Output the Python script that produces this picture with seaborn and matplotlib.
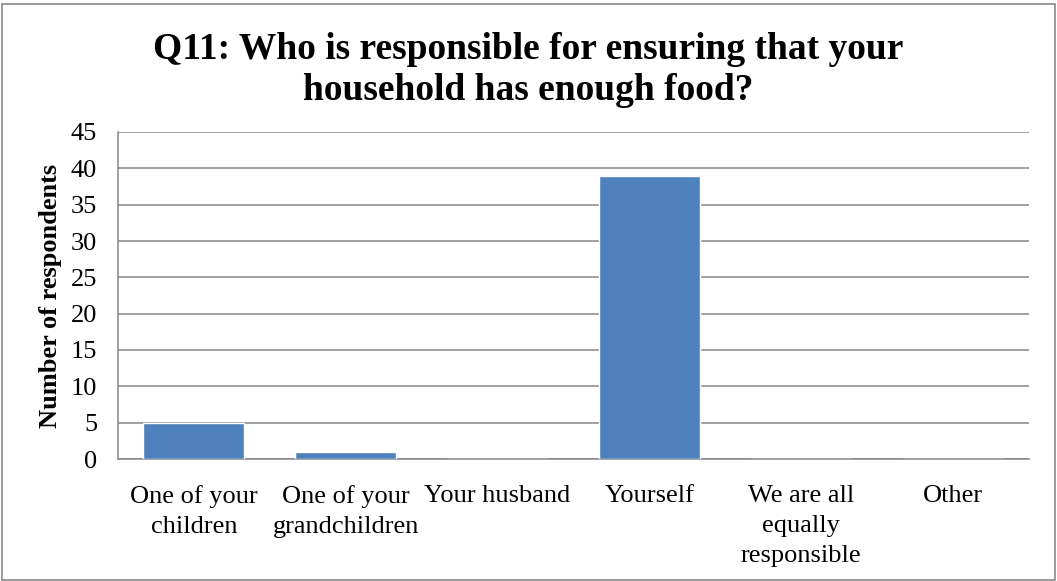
import matplotlib
matplotlib.use("Agg")
import matplotlib.pyplot as plt
from matplotlib.patches import Rectangle
import seaborn as sns
import pandas as pd

categories = [
    "One of your\nchildren",
    "One of your\ngrandchildren",
    "Your husband",
    "Yourself",
    "We are all\nequally\nresponsible",
    "Other",
]
respondents = [5, 1, 0, 39, 0, 0]
y_ticks = [0, 5, 10, 15, 20, 25, 30, 35, 40, 45]

title = "Q11: Who is responsible for ensuring that your\nhousehold has enough food?"
y_label = "Number of respondents"

sns.set_style("white")
plt.rcParams["font.family"] = ["Liberation Serif", "DejaVu Serif"]
plt.rcParams["text.color"] = "black"
plt.rcParams["xtick.color"] = "black"
plt.rcParams["ytick.color"] = "black"
plt.rcParams["axes.labelcolor"] = "black"

W, H = 1057, 581
fig = plt.figure(figsize=(W / 100, H / 100), dpi=100)

# plot area in pixel coordinates
left, right, top, bottom = 118, 1029, 132, 459
ax = fig.add_axes([left / W, (H - bottom) / H, (right - left) / W, (bottom - top) / H])

df = pd.DataFrame({"category": categories, "value": respondents})
sns.barplot(data=df, x="category", y="value", order=categories,
            color="#4F81BD", saturation=1, width=0.665, ax=ax, zorder=3)

grid_color = "#868686"
ax.set_ylim(0, 45)
ax.set_yticks(y_ticks)
ax.yaxis.grid(True, color=grid_color, linewidth=1.1, zorder=0)
ax.set_axisbelow(True)
for s in ["top", "right"]:
    ax.spines[s].set_visible(False)
for s in ["left", "bottom"]:
    ax.spines[s].set_color(grid_color)
    ax.spines[s].set_linewidth(1.1)

ax.tick_params(axis="x", length=0, pad=19, labelsize=19)
ax.tick_params(axis="y", length=0, pad=15, labelsize=19)
for lbl in ax.get_xticklabels():
    lbl.set_linespacing(1.45)
ax.set_xlabel("")
ax.set_ylabel(y_label, fontsize=19, fontweight="bold", labelpad=6)

fig.text(0.5, 0.88, title, ha="center", va="center",
         fontsize=27, fontweight="bold", linespacing=1.22)

# outer frame around the chart
fig.patches.append(Rectangle((2 / W, 1.5 / H), (W - 4) / W, (H - 5) / H,
                             transform=fig.transFigure, fill=False,
                             edgecolor="#898989", linewidth=1.2))

fig.savefig("out.png", dpi=100)
